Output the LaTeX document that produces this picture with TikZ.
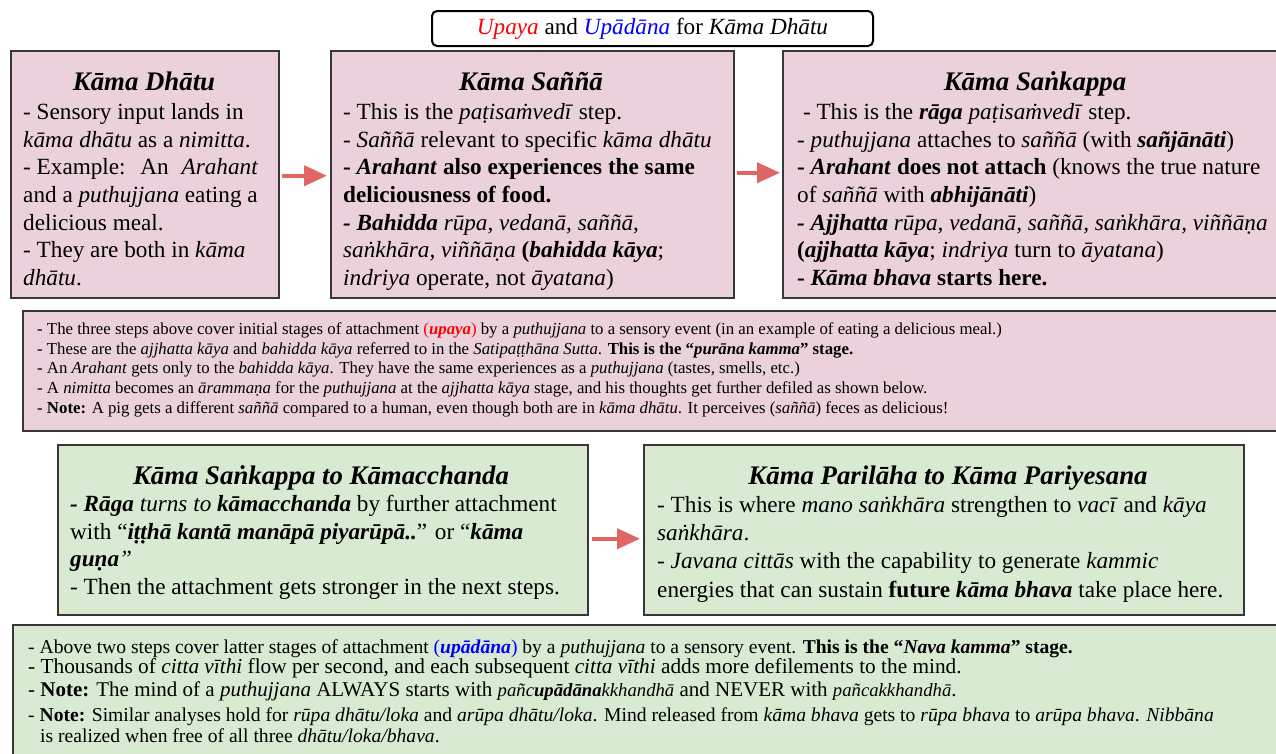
\documentclass[tikz,border=0pt]{standalone}
\usepackage{fontspec}
\setmainfont{Liberation Serif}
\usetikzlibrary{arrows.meta}
\definecolor{pinkfill}{RGB}{234,209,220}
\definecolor{greenfill}{RGB}{217,234,211}
\definecolor{edgegray}{RGB}{55,55,55}
\definecolor{arrowred}{RGB}{224,102,102}
\newcommand{\BI}[1]{\textbf{\textit{#1}}}
\begin{document}
\begin{tikzpicture}[x=1pt,y=-1pt,
  stepbox/.style={draw=edgegray, line width=1.5pt, rectangle, inner sep=0pt, anchor=north west},
  pinkbox/.style={stepbox, fill=pinkfill},
  greenbox/.style={stepbox, fill=greenfill},
  head/.style={anchor=base, inner sep=0pt, font=\fontsize{26.8}{30}\selectfont\bfseries\itshape},
  body/.style={anchor=north west, inner sep=0pt, align=left, font=\fontsize{23.2}{27.7}\selectfont},
  note/.style={anchor=north west, inner sep=0pt, align=left, font=\fontsize{16.8}{19.7}\selectfont},
  noteline/.style={anchor=base west, inner sep=0pt},
  arr/.style={draw=arrowred, line width=4pt, -{Triangle[length=23pt,width=20pt]}}
]
\clip (0,0) rectangle (1276,753);
\fill[white] (0,0) rectangle (1276,753);

% title
\node[draw=black, line width=2pt, rounded corners=5pt, minimum width=441pt, minimum height=35pt,
      inner sep=0pt, anchor=north west, font=\fontsize{23.2}{26}\selectfont] (title) at (431,10)
  {\textcolor{red}{\textit{Upaya}} and \textcolor{blue}{\textit{Upādāna}} for \textit{Kāma Dhātu}};

% top boxes
\node[pinkbox, minimum width=268pt, minimum height=247pt] (b1) at (10,50) {};
\node[pinkbox, minimum width=403pt, minimum height=247pt] (b2) at (330,50) {};
\node[pinkbox, minimum width=508pt, minimum height=247pt] (b3) at (782,50) {};

\node[head] (h1) at (144,90.5) {Kāma Dhātu};
\node[body] (t1) at (23,103) {- Sensory input lands in\\
\textit{kāma dhātu} as a \textit{nimitta}.\\
\makebox[235pt][l]{- Example: \hfill An \hfill \textit{Arahant}}\\
and a \textit{puthujjana} eating a\\
delicious meal.\\
- They are both in \textit{kāma}\\
\textit{dhātu}.};

\node[head] (h2) at (531,90.5) {Kāma Saññā};
\node[body] (t2) at (343,103) {- This is the \textit{paṭisaṁvedī} step.\\
- \textit{Saññā} relevant to specific \textit{kāma dhātu}\\
\textbf{- \textit{Arahant} also experiences the same}\\
\textbf{deliciousness of food.}\\
\BI{- Bahidda} \textit{rūpa, vedanā, saññā,}\\
\textit{saṅkhāra, viññāṇa} \textbf{(\textit{bahidda kāya}}; \\
\textit{indriya} operate, not \textit{āyatana})};

\node[head] (h3) at (1035,90.5) {Kāma Saṅkappa};
\node[body] (t3) at (797,103) {\ - This is the \BI{rāga} \textit{paṭisaṁvedī} step.\\
- \textit{puthujjana} attaches to \textit{saññā} (with \BI{sañjānāti})\\
\textbf{- \textit{Arahant} does not attach} (knows the true nature\\
of \textit{saññā} with \BI{abhijānāti})\\
\BI{- Ajjhatta} \textit{rūpa, vedanā, saññā, saṅkhāra, viññāṇa}\\
\textbf{(\textit{ajjhatta kāya}}; \textit{indriya} turn to \textit{āyatana})\\
\textbf{- \textit{Kāma bhava} starts here.}};

\draw[arr, shorten <=2pt, shorten >=3pt] ([yshift=-1.5pt]b1.east) -- ([yshift=-1.5pt]b1.east -| b2.west);
\draw[arr, shorten <=2pt, shorten >=2pt] ([yshift=1.5pt]b2.east) -- ([yshift=1.5pt]b2.east -| b3.west);

% pink notes
\node[pinkbox, minimum width=1270pt, minimum height=120pt] (n1) at (22,310) {};
\node[note] (tn1) at (37,322.5) {- The three steps above cover initial stages of attachment \textcolor{red}{(\BI{upaya})} by a \textit{puthujjana} to a sensory event (in an example of eating a delicious meal.)\\
- These are the \textit{ajjhatta kāya} and \textit{bahidda kāya} referred to in the \textit{Satipaṭṭhāna Sutta}. \textbf{This is the “\textit{purāna kamma}” stage.}\\
- An \textit{Arahant} gets only to the \textit{bahidda kāya}. They have the same experiences as a \textit{puthujjana} (tastes, smells, etc.)\\
- A \textit{nimitta} becomes an \textit{ārammaṇa} for the \textit{puthujjana} at the \textit{ajjhatta kāya} stage, and his thoughts get further defiled as shown below.\\
- \textbf{Note:} A pig gets a different \textit{saññā} compared to a human, even though both are in \textit{kāma dhātu}. It perceives (\textit{saññā}) feces as delicious!};

% green boxes
\node[greenbox, minimum width=530pt, minimum height=170pt] (b5) at (57,444) {};
\node[greenbox, minimum width=600pt, minimum height=170pt] (b6) at (643,444) {};

\node[head] (h5) at (321,484) {Kāma Saṅkappa to Kāmacchanda};
\node[body] (t5) at (70,495) {\BI{- Rāga} \textit{turns to} \BI{kāmacchanda} by further attachment\\
with “\BI{iṭṭhā kantā manāpā piyarūpā..}” or “\BI{kāma}\\
\BI{guṇa}\textit{”}\\
- Then the attachment gets stronger in the next steps.};

\node[head] (h6) at (948,484) {Kāma Parilāha to Kāma Pariyesana};
\node[body, font=\fontsize{23.2}{28.3}\selectfont] (t6) at (657,496) {- This is where \textit{mano saṅkhāra} strengthen to \textit{vacī} and \textit{kāya}\\
\textit{saṅkhāra}.\\
- \textit{Javana cittās} with the capability to generate \textit{kammic}\\
energies that can sustain \textbf{future \textit{kāma bhava}} take place here.};

\draw[arr, shorten <=3pt, shorten >=3pt] ([yshift=-9pt]b5.east) -- ([yshift=-9pt]b5.east -| b6.west);

% green notes
\node[greenbox, minimum width=1290pt, minimum height=160pt] (n2) at (12,624) {};
\node[noteline, font=\fontsize{19.6}{22}\selectfont] (l1) at (28,653) {- Above two steps cover latter stages of attachment \textcolor{blue}{(\BI{upādāna})} by a \textit{puthujjana} to a sensory event. \textbf{This is the “\textit{Nava kamma}” stage.}};
\node[noteline, font=\fontsize{21.3}{24}\selectfont] (l2) at (28,673.5) {- Thousands of \textit{citta vīthi} flow per second, and each subsequent \textit{citta vīthi} adds more defilements to the mind.};
\node[noteline, font=\fontsize{21}{24}\selectfont] (l3) at (28,696.5) {- \textbf{Note:} The mind of a \textit{puthujjana} ALWAYS starts with {\fontsize{18.7}{20}\selectfont\textit{pañc}\BI{upādāna}\textit{kkhandhā}} and NEVER with {\fontsize{18.7}{20}\selectfont\textit{pañcakkhandhā}}.};
\node[noteline, font=\fontsize{19.6}{22}\selectfont] (l4) at (28,721) {- \textbf{Note:} Similar analyses hold for \textit{rūpa dhātu/loka} and \textit{arūpa dhātu/loka}. Mind released from \textit{kāma bhava} gets to \textit{rūpa bhava} to \textit{arūpa bhava}. \textit{Nibbāna}};
\node[noteline, font=\fontsize{19.6}{22}\selectfont] (l5) at (40,742) {is realized when free of all three \textit{dhātu/loka/bhava}.};
\end{tikzpicture}
\end{document}
